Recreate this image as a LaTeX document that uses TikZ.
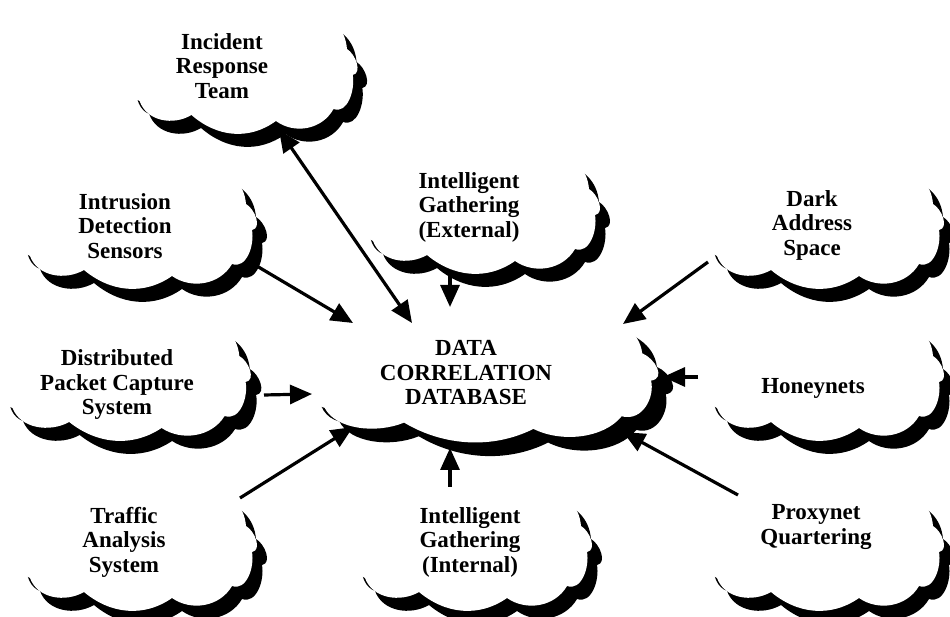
\documentclass[tikz,border=0pt]{standalone}
\usepackage{fontspec}
\setmainfont{Liberation Serif}
\usetikzlibrary{arrows.meta}

% outline of one cloud, local units (shadow bottom near y=0)
\newcommand\cloudshape{(10,42) to[out=-70,in=-150] (64,28)
  to[out=-40,in=-145] (152,22)
  to[out=-35,in=-120] (212,34)
  to[out=-20,in=-80] (232,68)
  to[out=10,in=-30] (226,94)
  to[out=95,in=0] (125,140)
  to[out=180,in=85] (12,95)
  to[out=200,in=160] cycle}

\begin{document}
\begin{tikzpicture}[x=1pt,y=1pt,
  label/.style={font=\fontsize{23}{24.5}\selectfont\bfseries, align=center, inner sep=0pt},
  conn/.style={line width=3.2pt, -{Triangle[length=22pt,width=19pt]}},
  conn2/.style={line width=3.2pt, {Triangle[length=22pt,width=19pt]}-{Triangle[length=22pt,width=19pt]}},
  cloud/.pic={
    \fill[black, shift={(10,-13)}] \cloudshape;
    \fill[white] \cloudshape;
  }]
\useasboundingbox (0,0) rectangle (950,617);

% clouds, lowest row first so upper shadows lie on top
\pic (cTAS) at (20,-3) {cloud};
\pic (cIGI) at (355,-3) {cloud};
\pic (cPQ) at (707,-3) {cloud};
\pic[xscale=1.05] (cDPCS) at (2,167) {cloud};
\pic[xscale=1.47,yscale=1.05] (cDCD) at (310,165) {cloud};
\pic (cHON) at (707,167) {cloud};
\pic (cIDS) at (20,319) {cloud};
\pic (cIGE) at (363,334) {cloud};
\pic (cDAS) at (707,319) {cloud};
\pic[xscale=0.96] (cIRT) at (130,474) {cloud};

% labels
\node[label] (irt) at (222,551) {Incident\\Response\\Team};
\node[label] (ids) at (125,391) {Intrusion\\Detection\\Sensors};
\node[label] (ige) at (469,410) {Intelligent\\Gathering\\(External)};
\node[label] (das) at (812,392) {Dark\\Address\\Space};
\node[label] (dpcs) at (117,232) {Distributed\\Packet Capture\\System};
\node[label] (dcd) at (466,244) {DATA\\CORRELATION\\DATABASE};
\node[label] (hon) at (813,229) {Honeynets};
\node[label] (tas) at (124,75) {Traffic\\Analysis\\System};
\node[label] (igi) at (470,75) {Intelligent\\Gathering\\(Internal)};
\node[label] (pq) at (816,90) {Proxynet\\Quartering};

% connector end points on the cloud rims
\coordinate (irt-p) at (279,487);
\coordinate (ids-p) at (250,355);
\coordinate (ige-p) at (450,344);
\coordinate (das-p) at (708,355);
\coordinate (dpcs-p) at (264,222);
\coordinate (hon-p) at (698,240);
\coordinate (tas-p) at (240,119);
\coordinate (igi-p) at (450,130);
\coordinate (pq-p) at (738,122);
\coordinate (dcd-irt) at (412,294);
\coordinate (dcd-ids) at (353,294);
\coordinate (dcd-ige) at (450,310);
\coordinate (dcd-das) at (623,293);
\coordinate (dcd-dpcs) at (312,223);
\coordinate (dcd-hon) at (663,240);
\coordinate (dcd-tas) at (353,190);
\coordinate (dcd-igi) at (450,169);
\coordinate (dcd-pq) at (623,185);

% connectors
\draw[conn2] (irt-p) -- (dcd-irt);
\draw[conn] (ids-p) -- (dcd-ids);
\draw[conn] (ige-p) -- (dcd-ige);
\draw[conn] (das-p) -- (dcd-das);
\draw[conn] (dpcs-p) -- (dcd-dpcs);
\draw[conn] (hon-p) -- (dcd-hon);
\draw[conn] (tas-p) -- (dcd-tas);
\draw[conn] (igi-p) -- (dcd-igi);
\draw[conn] (pq-p) -- (dcd-pq);
\end{tikzpicture}
\end{document}
